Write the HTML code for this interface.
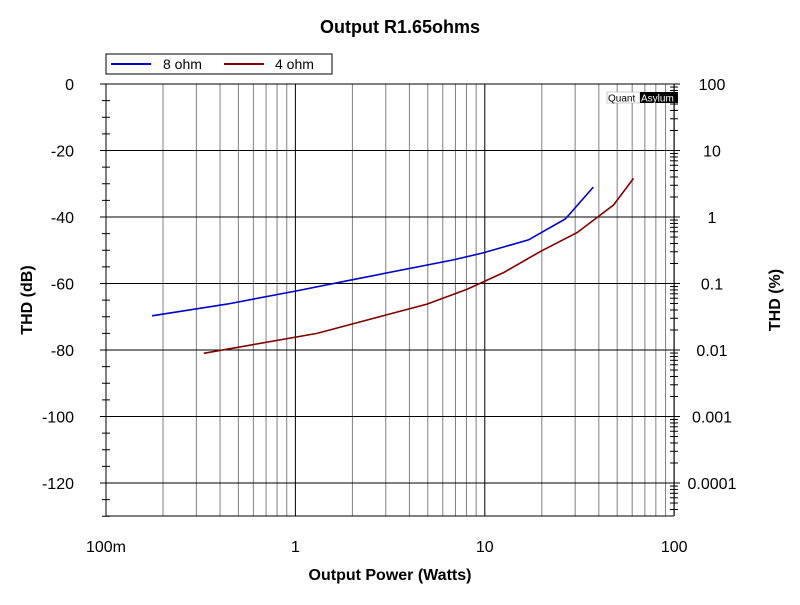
<!DOCTYPE html>
<html><head><meta charset="utf-8"><style>
body{margin:0;background:#fff}
svg text{font-family:"Liberation Sans",sans-serif}
</style></head><body>
<svg id="chart" width="800" height="600">
<text x="400" y="33" text-anchor="middle" font-size="18" font-weight="bold">Output R1.65ohms</text>
<text x="390" y="580" text-anchor="middle" font-size="16" font-weight="bold">Output Power (Watts)</text>
<text transform="translate(32,300) rotate(-90)" text-anchor="middle" font-size="16" font-weight="bold">THD (dB)</text>
<text transform="translate(780,300) rotate(-90)" text-anchor="middle" font-size="16" font-weight="bold">THD (%)</text>
<g id="grid"></g>
<g id="series"></g>
<g>
<rect x="106" y="54" width="226" height="20" fill="#fff" stroke="#000"/>
<line x1="111" y1="64" x2="151" y2="64" stroke="#0000c0" stroke-width="2"/>
<text x="163" y="69" font-size="14">8 ohm</text>
<line x1="224" y1="64" x2="264" y2="64" stroke="#800000" stroke-width="2"/>
<text x="275" y="69" font-size="14">4 ohm</text>
</g>
<g>
<rect x="607" y="92" width="33" height="11" fill="#fff" stroke="#999" stroke-width="0.5"/>
<text x="608" y="101.5" font-size="10" fill="#000">Quant</text>
<rect x="640" y="92" width="38" height="11" fill="#000"/>
<text x="641" y="101.5" font-size="10" fill="#fff">Asylum</text>
</g>
</svg>
<script>
const xTicks=[0.1,1,10,100];
const xTickLabels=["100m","1","10","100"];
const yTicks=[0,-20,-40,-60,-80,-100,-120];
const yRightLabels=["100","10","1","0.1","0.01","0.001","0.0001"];
const p8=[0.175,0.436,1,1.99,6.82,9.8,17.0,26.6,37.4];
const d8=[-69.7,-66.2,-62.3,-58.9,-52.9,-50.8,-46.9,-40.6,-31.0];
const p4=[0.328,1.30,4.95,8.06,12.6,19.6,30.7,47.8,61.0];
const d4=[-81.0,-75.0,-66.2,-61.7,-56.7,-50.4,-44.7,-36.4,-28.4];
const L=106,R=674,T=84,B=516;
const xs=w=>L+(Math.log10(w)+1)*189.4;
const ys=d=>T-d*3.325;
const NS="http://www.w3.org/2000/svg";
const grid=document.getElementById('grid'),ser=document.getElementById('series');
function mk(tag,a,parent){const e=document.createElementNS(NS,tag);for(const k in a)e.setAttribute(k,a[k]);parent.appendChild(e);return e;}
// vertical minor grid
for(let d=0.1;d<100;d*=10){for(let m=2;m<=9;m++){const x=xs(d*m);
const l=mk('line',{x1:x,y1:T,x2:x,y2:B,stroke:'#808080','stroke-width':1},grid);

}}
xTicks.forEach((v,i)=>{const x=xs(v);
const l=mk('line',{x1:x,y1:T,x2:x,y2:B,stroke:'#000','stroke-width':1},grid);


const t=mk('text',{x:x,y:552,'text-anchor':'middle','font-size':16},grid);t.textContent=xTickLabels[i];

});
yTicks.forEach((v,i)=>{const y=ys(v);
const l=mk('line',{x1:L-6,y1:y,x2:R+6,y2:y,stroke:'#000','stroke-width':1},grid);


const t=mk('text',{x:74,y:y+6,'text-anchor':'end','font-size':16},grid);t.textContent=String(v);


const t2=mk('text',{x:712,y:y+6,'text-anchor':'middle','font-size':16},grid);t2.textContent=yRightLabels[i];

});
// left minor ticks every 5 dB
for(let d=0;d>=-130;d-=5){const y=ys(d);mk('line',{x1:L-4,y1:y,x2:L+4,y2:y,stroke:'#000'},grid);}
// right log minor ticks
for(let k=0;k<7;k++){for(let m=2;m<=9;m++){const d=-20*k-20+20*Math.log10(m);const y=ys(d);if(y<=B&&y>=T)mk('line',{x1:R-4,y1:y,x2:R+4,y2:y,stroke:'#000'},grid);}}
mk('line',{x1:L,y1:T,x2:L,y2:B,stroke:'#000'},grid);
mk('line',{x1:R,y1:T,x2:R,y2:B,stroke:'#000'},grid);
mk('line',{x1:L,y1:B,x2:R,y2:B,stroke:'#000'},grid);
function line(p,d,c,name){const pts=p.map((w,i)=>xs(w).toFixed(1)+','+ys(d[i]).toFixed(1)).join(' ');
const e=mk('polyline',{points:pts,fill:'none',stroke:c,'stroke-width':1.6},ser);

}
line(p8,d8,'#0000c8','series-8ohm');
line(p4,d4,'#800000','series-4ohm');
</script>
</body></html>
